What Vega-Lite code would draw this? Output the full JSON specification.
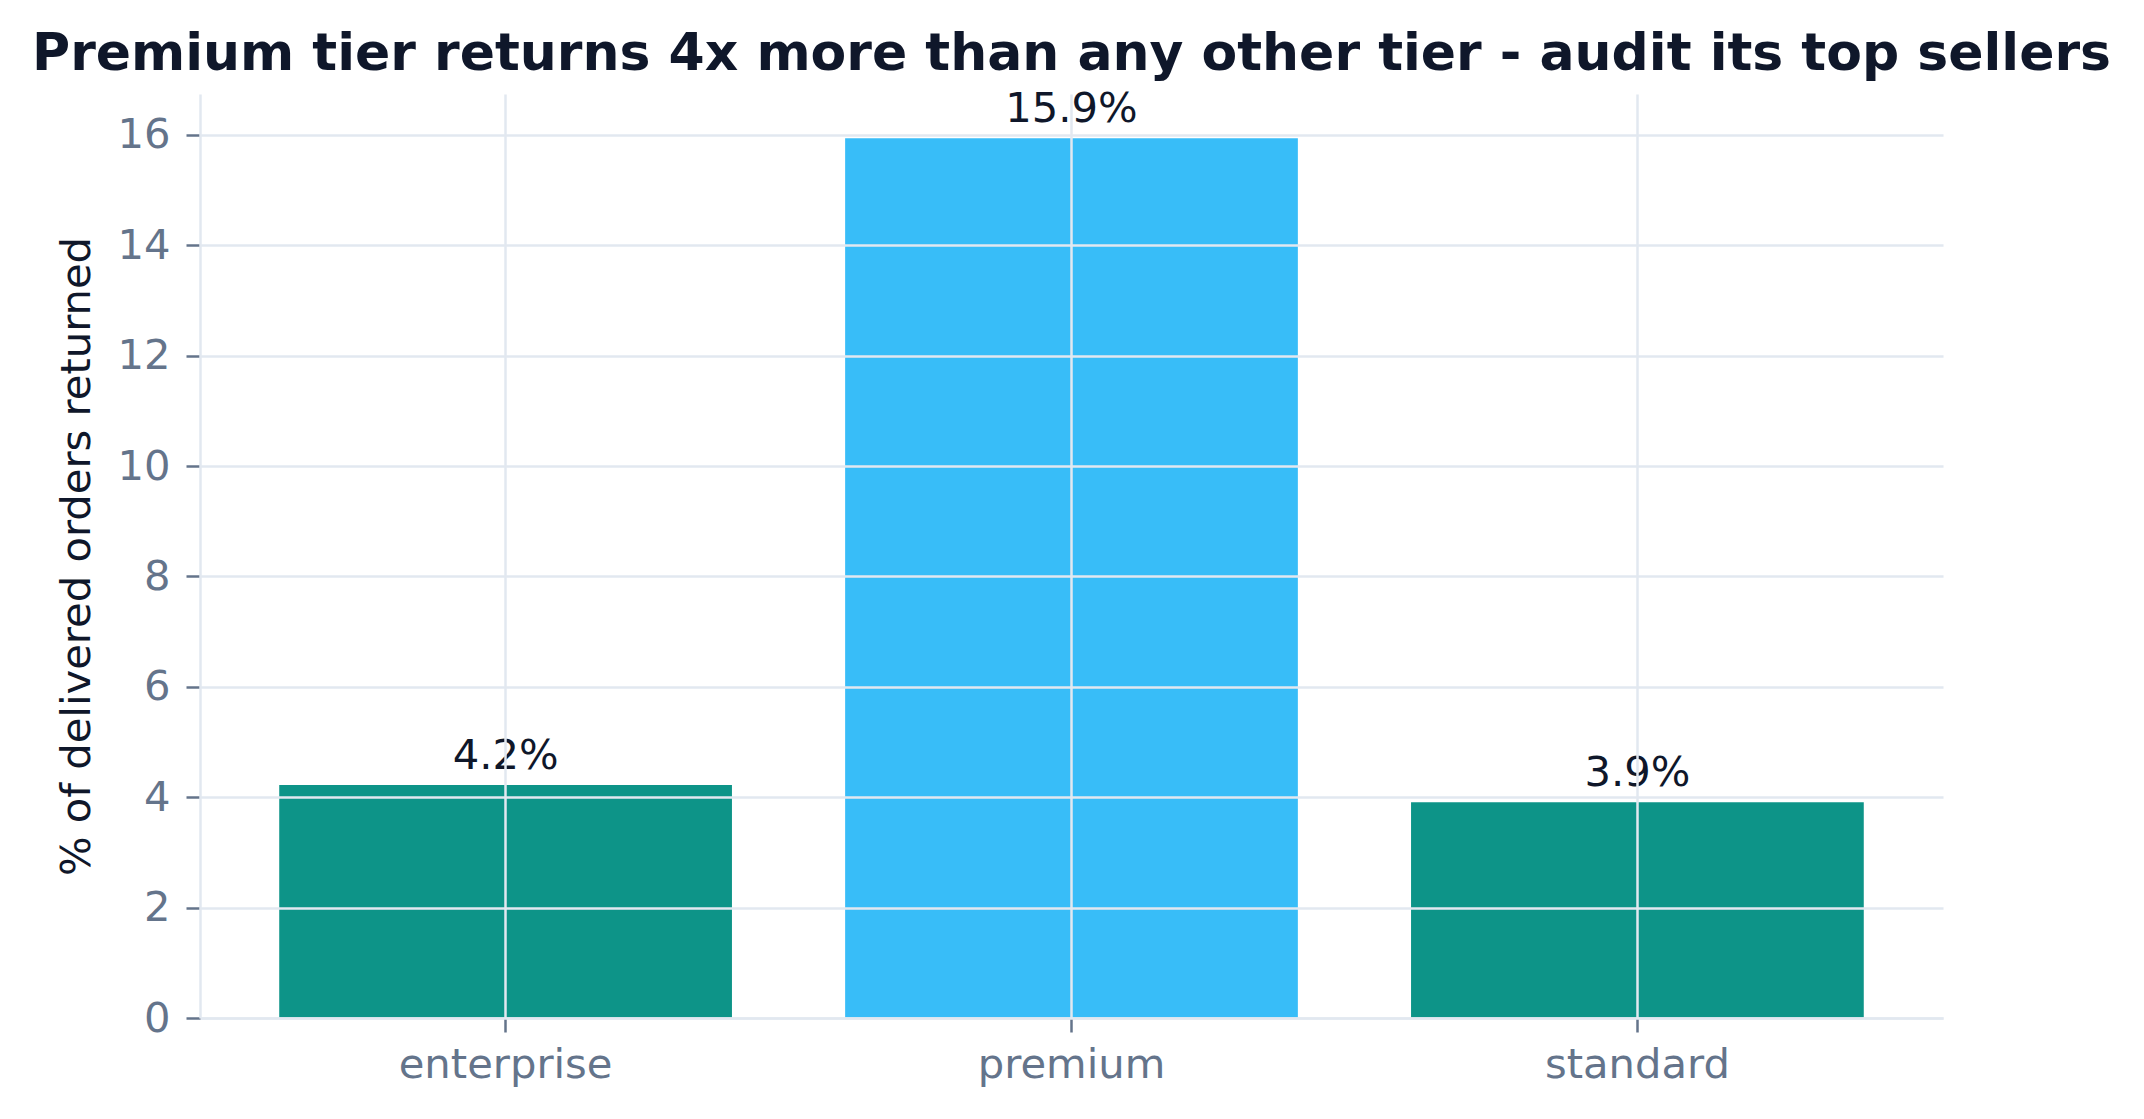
{
  "$schema": "https://vega.github.io/schema/vega-lite/v6.json",
  "width": 1743,
  "height": 924,
  "autosize": {"type": "none"},
  "padding": {"left": 200, "top": 94, "right": 201, "bottom": 101},
  "background": "white",
  "title": {
    "text": "Premium tier returns 4x more than any other tier - audit its top sellers",
    "font": "DejaVu Sans",
    "fontSize": 52,
    "fontWeight": "bold",
    "color": "#0f172a",
    "anchor": "middle",
    "frame": "group",
    "baseline": "alphabetic",
    "offset": 25,
    "dy": 58
  },
  "config": {
    "view": {"stroke": null},
    "font": "DejaVu Sans",
    "axis": {
      "gridColor": "#e2e8f0",
      "gridWidth": 2.5,
      "domainColor": "#e2e8f0",
      "domainWidth": 2.5,
      "tickColor": "#64748b",
      "tickWidth": 2.5,
      "tickSize": 14,
      "labelColor": "#64748b",
      "labelFont": "DejaVu Sans",
      "labelFontSize": 41.7,
      "labelLimit": 500,
      "titleFont": "DejaVu Sans",
      "titleFontSize": 41.7,
      "titleFontWeight": "normal",
      "titleColor": "#0f172a"
    }
  },
  "data": {
    "values": [
      {"tier": "enterprise", "return_rate": 4.22, "highlight": "other"},
      {"tier": "premium", "return_rate": 15.94, "highlight": "premium"},
      {"tier": "standard", "return_rate": 3.91, "highlight": "other"}
    ]
  },
  "encoding": {
    "x": {
      "field": "tier",
      "type": "nominal",
      "sort": null,
      "scale": {"paddingInner": 0.2, "paddingOuter": 0.14},
      "axis": {"title": null, "labelAngle": 0, "grid": true, "labelPadding": 12, "zindex": 1}
    },
    "y": {
      "field": "return_rate",
      "type": "quantitative",
      "scale": {"domain": [0, 16.74], "nice": false, "zero": true},
      "axis": {
        "title": "% of delivered orders returned",
        "values": [0, 2, 4, 6, 8, 10, 12, 14, 16],
        "labelPadding": 16,
        "titlePadding": 18,
        "zindex": 1
      }
    }
  },
  "layer": [
    {
      "mark": {"type": "bar"},
      "encoding": {
        "color": {
          "field": "highlight",
          "type": "nominal",
          "scale": {"domain": ["other", "premium"], "range": ["#0d9488", "#38bdf8"]},
          "legend": null
        }
      }
    },
    {
      "mark": {
        "type": "text",
        "baseline": "alphabetic",
        "dy": -16,
        "fontSize": 41.7,
        "font": "DejaVu Sans",
        "color": "#0f172a",
        "zindex": 2,
        "text": {"expr": "format(datum.return_rate, '.1f') + '%'"}
      }
    }
  ]
}
